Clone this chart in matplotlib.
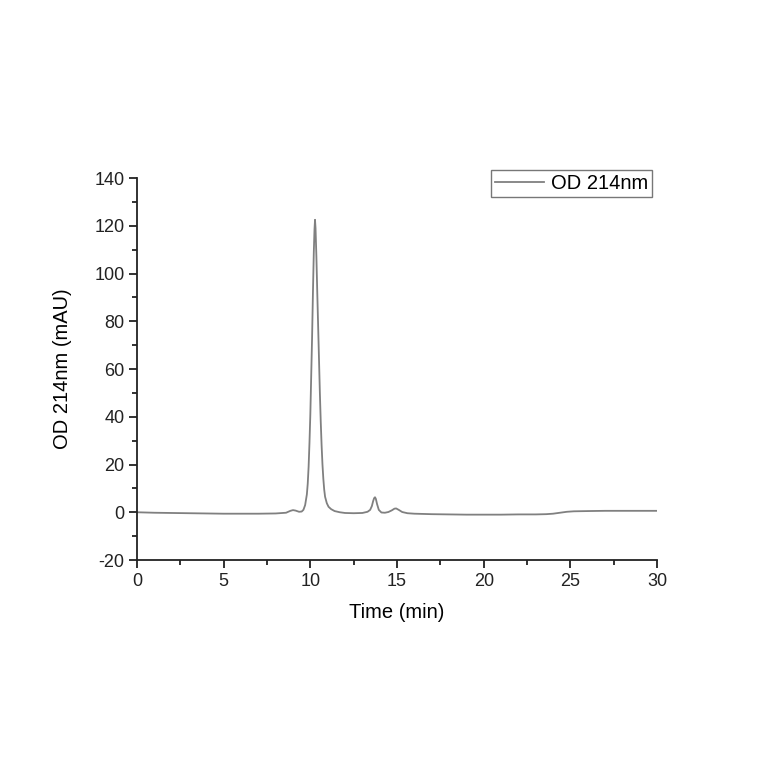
import matplotlib
matplotlib.use('Agg')
import matplotlib.pyplot as plt
from matplotlib.ticker import MultipleLocator

plt.rcParams['font.family'] = ['Liberation Sans', 'DejaVu Sans']
plt.rcParams['axes.unicode_minus'] = False

# chromatogram trace (time in min, signal in mAU)
time_min = [0.0, 1.0, 2.0, 3.0, 4.0, 5.0, 6.0, 7.0, 8.0, 8.6, 8.85, 9.0, 9.15,
            9.35, 9.5, 9.6, 9.7, 9.8, 9.85, 9.9, 9.95, 10.0, 10.05, 10.1, 10.15,
            10.2, 10.24, 10.27, 10.3, 10.35, 10.4, 10.45, 10.5, 10.55, 10.6,
            10.65, 10.7, 10.75, 10.8, 10.85, 10.95, 11.05, 11.2, 11.4, 11.7,
            12.0, 12.5, 13.0, 13.3, 13.45, 13.55, 13.62, 13.68, 13.73, 13.78,
            13.85, 13.95, 14.1, 14.3, 14.5, 14.7, 14.85, 14.95, 15.1, 15.3,
            15.6, 16.0, 17.0, 18.0, 19.0, 20.0, 21.0, 22.0, 23.0, 23.6, 24.0,
            24.4, 24.8, 25.2, 26.0, 27.0, 28.0, 29.0, 30.0]
od_214 = [0.0, -0.2, -0.3, -0.4, -0.5, -0.6, -0.6, -0.6, -0.5, -0.2, 0.6, 0.9,
          0.7, 0.2, 0.3, 1.0, 3.0, 7.5, 12.0, 19.0, 29.0, 41.0, 57.0, 73.0,
          92.0, 109.0, 118.5, 122.5, 119.0, 107.0, 92.0, 78.0, 64.0, 50.0,
          38.0, 28.0, 20.0, 14.0, 9.5, 6.5, 3.8, 2.3, 1.3, 0.5, 0.0, -0.3,
          -0.4, -0.3, 0.2, 1.0, 2.6, 4.6, 5.9, 6.3, 5.6, 3.4, 1.0, -0.1,
          -0.2, 0.1, 0.8, 1.5, 1.6, 1.0, 0.1, -0.4, -0.6, -0.8, -0.9, -1.0,
          -1.0, -1.0, -0.9, -0.9, -0.8, -0.6, -0.2, 0.2, 0.4, 0.5, 0.6, 0.6,
          0.6, 0.6]

fig = plt.figure(figsize=(7.64, 7.64), dpi=100)
ax = fig.add_axes([0.1793, 0.267, 0.6807, 0.5])

ax.plot(time_min, od_214, color='#808080', lw=1.3, label='OD 214nm')

ax.set_xlim(0, 30)
ax.set_ylim(-20, 140)
ax.xaxis.set_major_locator(MultipleLocator(5))
ax.xaxis.set_minor_locator(MultipleLocator(2.5))
ax.yaxis.set_major_locator(MultipleLocator(20))
ax.yaxis.set_minor_locator(MultipleLocator(10))

for side in ['top', 'right']:
    ax.spines[side].set_visible(False)
for side in ['left', 'bottom']:
    ax.spines[side].set_linewidth(1.3)
    ax.spines[side].set_color('#222222')

ax.tick_params(which='major', direction='out', length=6, width=1.3,
               labelsize=13, colors='#222222', pad=3)
ax.tick_params(which='minor', direction='out', length=3.5, width=1.3,
               colors='#222222')

ax.set_xlabel('Time (min)', fontsize=14.5, labelpad=10)
ax.set_ylabel('OD 214nm (mAU)', fontsize=14.5, labelpad=16)

leg = ax.legend(loc='upper right', bbox_to_anchor=(0.99, 1.022), fontsize=14.5,
                frameon=True, fancybox=False, borderpad=0.2,
                handlelength=2.4, handletextpad=0.35, borderaxespad=0)
leg.get_frame().set_edgecolor('#555555')
leg.get_frame().set_linewidth(1.0)

fig.savefig('out.png', dpi=100, facecolor='white')
